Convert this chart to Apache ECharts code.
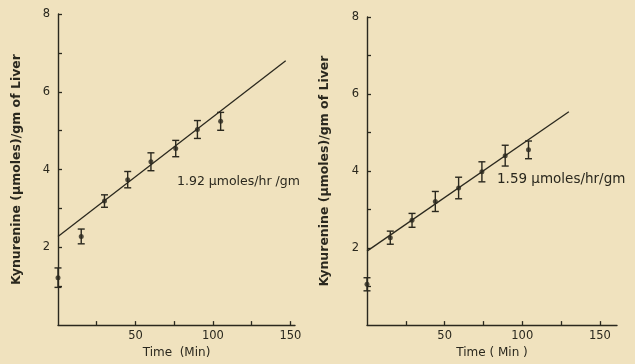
<!DOCTYPE html>
<html>
<head>
<meta charset="utf-8">
<script src="https://cdn.jsdelivr.net/npm/echarts@6/dist/echarts.min.js"></script>
<style>
  html, body { margin: 0; padding: 0; background: #f0e2be; }
  #chart { width: 635px; height: 364px; }
</style>
</head>
<body>
<div id="chart"></div>
<script>
// left panel (1.92 umoles/hr/gm)
var leftTime = [0, 15, 30, 45, 60, 76, 90, 105];
var leftMean = [1.22, 2.28, 3.19, 3.74, 4.20, 4.54, 5.03, 5.24];
var leftErr = [0.25, 0.19, 0.16, 0.21, 0.23, 0.21, 0.23, 0.23];
var leftFitX = [0, 147];
var leftFitY = [2.28, 6.80];

// right panel (1.59 umoles/hr/gm)
var rightTime = [0, 15, 29, 44, 59, 74, 89, 104];
var rightMean = [1.06, 2.27, 2.72, 3.21, 3.56, 3.98, 4.40, 4.55];
var rightErr = [0.17, 0.17, 0.18, 0.26, 0.28, 0.26, 0.27, 0.23];
var rightFitX = [0, 130];
var rightFitY = [1.92, 5.54];

var xTicks = [25, 50, 75, 100, 125, 150];
var xLabels = [50, 100, 150];
var yTicks = [1, 2, 3, 4, 5, 6, 7, 8];
var yLabels = [2, 4, 6, 8];

var ink = '#2a281e';
var font = 'DejaVu Sans';

var chart = echarts.init(document.getElementById('chart'));

function pts(xs, ys) {
    var out = [];
    for (var i = 0; i < xs.length; i++) out.push([xs[i], ys[i]]);
    return out;
}
function bars(xs, ys, es) {
    var out = [];
    for (var i = 0; i < xs.length; i++) out.push([xs[i], ys[i] - es[i], ys[i] + es[i]]);
    return out;
}

//误差线
function renderErr(params, api) {
    var lo = api.coord([api.value(0), api.value(1)]);
    var hi = api.coord([api.value(0), api.value(2)]);
    var w = 3.5;
    var st = { stroke: ink, lineWidth: 1.4 };
    return {
        type: 'group',
        children: [
            { type: 'line', shape: { x1: lo[0], y1: lo[1], x2: hi[0], y2: hi[1] }, style: st },
            { type: 'line', shape: { x1: lo[0] - w, y1: lo[1], x2: lo[0] + w, y2: lo[1] }, style: st },
            { type: 'line', shape: { x1: hi[0] - w, y1: hi[1], x2: hi[0] + w, y2: hi[1] }, style: st }
        ]
    };
}

function xAxis(idx, max, name) {
    return {
        type: 'value', gridIndex: idx, min: 0, max: max,
        name: name, nameLocation: 'middle', nameGap: 18,
        nameTextStyle: { color: ink, fontFamily: font, fontSize: 12 },
        axisLine: { lineStyle: { color: ink, width: 1.4 } },
        axisTick: { show: true, inside: true, length: 4, customValues: xTicks, lineStyle: { color: ink, width: 1.3 } },
        axisLabel: { customValues: xLabels, color: ink, fontFamily: font, fontSize: 11.5, margin: 5 },
        splitLine: { show: false }
    };
}
function yAxis(idx, gap) {
    return {
        type: 'value', gridIndex: idx, min: 0, max: 8,
        name: 'Kynurenine (µmoles)/gm of Liver', nameLocation: 'middle', nameGap: gap, nameRotate: 90,
        nameTextStyle: { color: ink, fontFamily: font, fontSize: 12.5, fontWeight: 'bold' },
        axisLine: { show: true, lineStyle: { color: ink, width: 1.4 } },
        axisTick: { show: true, inside: true, length: 4, customValues: yTicks, lineStyle: { color: ink, width: 1.3 } },
        axisLabel: { customValues: yLabels, color: ink, fontFamily: font, fontSize: 11.5, margin: 8 },
        splitLine: { show: false }
    };
}

var option = {
    backgroundColor: '#f0e2be',
    animation: false,
    grid: [
        { left: 58, right: 340, top: 14, bottom: 35 },
        { left: 367, right: 18, top: 17, bottom: 37 }
    ],
    xAxis: [xAxis(0, 153, 'Time  (Min)'), xAxis(1, 161, 'Time ( Min )')],
    yAxis: [yAxis(0, 35), yAxis(1, 36)],
    graphic: [
        { type: 'text', left: 177, top: 175, style: { text: '1.92 µmoles/hr /gm', fill: ink, font: '12.5px "DejaVu Sans"' } },
        { type: 'text', left: 497, top: 172, style: { text: '1.59 µmoles/hr/gm', fill: ink, font: '13.5px "DejaVu Sans"' } }
    ],
    series: [
        { type: 'line', xAxisIndex: 0, yAxisIndex: 0, data: pts(leftFitX, leftFitY), symbol: 'none',
          lineStyle: { color: ink, width: 1.3 } },
        { type: 'custom', xAxisIndex: 0, yAxisIndex: 0, data: bars(leftTime, leftMean, leftErr), renderItem: renderErr },
        { type: 'scatter', xAxisIndex: 0, yAxisIndex: 0, data: pts(leftTime, leftMean), symbolSize: 5,
          itemStyle: { color: ink } },
        { type: 'line', xAxisIndex: 1, yAxisIndex: 1, data: pts(rightFitX, rightFitY), symbol: 'none',
          lineStyle: { color: ink, width: 1.3 } },
        { type: 'custom', xAxisIndex: 1, yAxisIndex: 1, data: bars(rightTime, rightMean, rightErr), renderItem: renderErr },
        { type: 'scatter', xAxisIndex: 1, yAxisIndex: 1, data: pts(rightTime, rightMean), symbolSize: 5,
          itemStyle: { color: ink } }
    ]
};
chart.setOption(option);
</script>
</body>
</html>
